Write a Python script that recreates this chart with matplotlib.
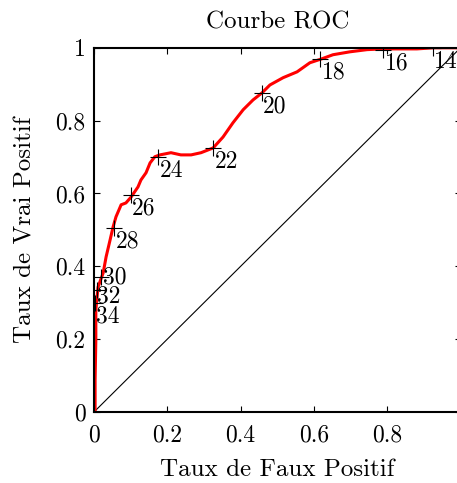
import numpy as np
import matplotlib.pyplot as plt

plt.rcParams['font.family'] = 'cmr10'
plt.rcParams['mathtext.fontset'] = 'cm'
plt.rcParams['axes.formatter.use_mathtext'] = True

# courbe ROC (taux de faux positif, taux de vrai positif)
fpr = [0.0, 0.003, 0.003, 0.005, 0.005, 0.011, 0.025, 0.033, 0.044, 0.052, 0.060,
       0.074, 0.087, 0.101, 0.120, 0.128, 0.142, 0.153, 0.166, 0.180, 0.210,
       0.237, 0.265, 0.292, 0.325, 0.352, 0.379, 0.407, 0.434, 0.458, 0.480,
       0.516, 0.554, 0.589, 0.622, 0.652, 0.698, 0.745, 0.789, 0.881, 0.925,
       0.990, 1.0]
tpr = [0.0, 0.0, 0.088, 0.198, 0.280, 0.343, 0.382, 0.426, 0.473, 0.508, 0.536,
       0.569, 0.574, 0.590, 0.618, 0.637, 0.657, 0.684, 0.701, 0.706, 0.712,
       0.706, 0.706, 0.712, 0.725, 0.755, 0.794, 0.830, 0.857, 0.876, 0.898,
       0.918, 0.934, 0.959, 0.970, 0.981, 0.989, 0.995, 0.997, 0.997, 1.0,
       1.0, 1.0]

# seuils marques sur la courbe
seuils = [14, 16, 18, 20, 22, 24, 26, 28, 30, 32, 34]
seuil_fpr = [0.925, 0.789, 0.617, 0.458, 0.325, 0.175, 0.100, 0.055, 0.020, 0.008, 0.003]
seuil_tpr = [1.0, 0.995, 0.970, 0.876, 0.725, 0.700, 0.596, 0.505, 0.370, 0.335, 0.300]

ticks = [0, 0.2, 0.4, 0.6, 0.8, 1]
tick_labels = ['0', '0.2', '0.4', '0.6', '0.8', '1']

fig = plt.figure(figsize=(4.57, 4.83), dpi=100)
ax = fig.add_axes([0.2057, 0.147, 0.802, 0.754])

ax.plot([0, 1], [0, 1], color='black', lw=0.8)
ax.plot(fpr, tpr, color='red', lw=2.2)
ax.plot(seuil_fpr, seuil_tpr, ls='none', marker='+', ms=12, mew=0.8, color='black')

# decalage des etiquettes (points)
decalage = {30: (1, 8), 32: (0, 3.5)}
for s, x, y in zip(seuils, seuil_fpr, seuil_tpr):
    dx, dy = decalage.get(s, (1, -2))
    ax.annotate(str(s), (x, y), xytext=(dx, dy), textcoords='offset points',
                ha='left', va='top', fontsize=17)

ax.set_xlim(0, 1)
ax.set_ylim(0, 1)
ax.set_xticks(ticks)
ax.set_xticklabels(tick_labels)
ax.set_yticks(ticks)
ax.set_yticklabels(tick_labels)
ax.tick_params(direction='in', length=4, width=0.8, top=True, right=True,
               labelsize=17)
ax.tick_params(axis='x', pad=9)
ax.tick_params(axis='y', pad=6)
for sp in ax.spines.values():
    sp.set_linewidth(1.5)

ax.set_xlabel('Taux de Faux Positif', fontsize=18, labelpad=9)
ax.set_ylabel('Taux de Vrai Positif', fontsize=18, labelpad=14)
ax.set_title('Courbe ROC', fontsize=18, pad=14)

fig.savefig('out.png')
